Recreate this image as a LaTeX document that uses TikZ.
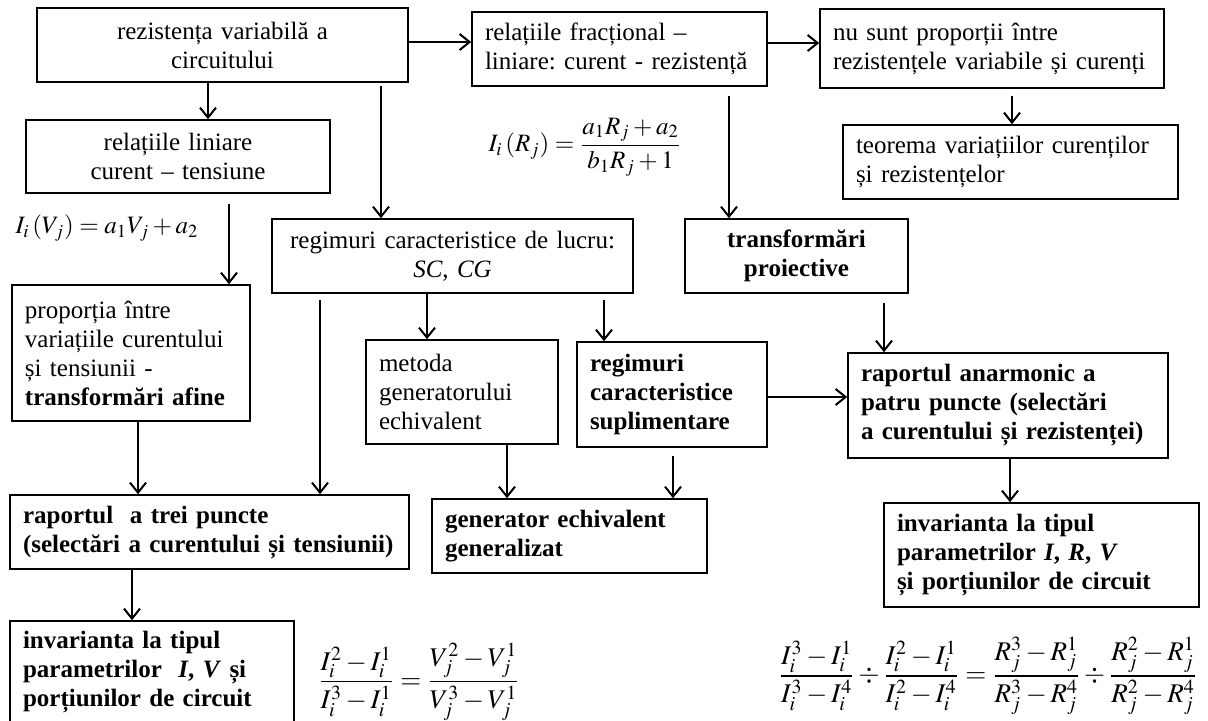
\documentclass[tikz,border=0pt]{standalone}
\usepackage{amsmath}
\usepackage{mathptmx}
\usepackage{fontspec}
\setmainfont{Liberation Serif}
\usepackage{tikz}
\usetikzlibrary{arrows.meta}
\frenchspacing

\begin{document}
\begin{tikzpicture}[x=0.5pt, y=-0.5pt,
    >={Straight Barb[length=5pt, width=8pt]},
    casuta/.style={draw, line width=0.8pt, inner xsep=6.5pt, inner ysep=0pt,
        font=\fontsize{12.5}{14.5}\selectfont},
    stanga/.style={casuta, align=left},
    centru/.style={casuta, align=center},
    formula/.style={inner sep=0pt, font=\fontsize{12.5}{14.5}\selectfont},
    formulamare/.style={inner sep=0pt, font=\fontsize{13.5}{15}\selectfont},
    sageata/.style={->, line width=1pt}]
    % Cadrul imaginii
    \useasboundingbox (0,0) rectangle (1208,720);

    % Rândul de sus
    \node[centru, text width=172.5pt, minimum height=37pt] (rezvar) at (222.5,45)
        {rezistența variabilă a\\circuitului};
    \node[stanga, text width=134.5pt, minimum height=37pt] (fractRI) at (619.5,49)
        {relațiile fracțional –\\liniare: curent - rezistență};
    \node[stanga, text width=159pt, minimum height=39.5pt] (nuprop) at (992,48.5)
        {nu sunt proporții între\\rezistențele variabile și curenți};
    \node[centru, text width=139pt, minimum height=36.5pt] (linIV) at (178,156.5)
        {relațiile liniare\\curent – tensiune};
    \node[stanga, text width=154.5pt, minimum height=37pt] (teorema) at (1010.5,162)
        {teorema variațiilor curenților\\și rezistențelor};

    % Formulele de sus
    \node[formula] (eqIV) at (107,228) {$I_i\,(V_j) = a_1V_j + a_2$};
    \node[formula] (eqRI) at (585,147) {$I_i\,(R_j) = \dfrac{a_1R_j + a_2}{b_1R_j + 1}$};

    % Rândul din mijloc
    \node[centru, text width=167.5pt, minimum height=37pt] (regimuri) at (452.5,256)
        {regimuri caracteristice de lucru:\\\textit{SC}, \textit{CG}};
    \node[centru, text width=98.5pt, minimum height=37pt] (proiect) at (796.5,256)
        {\textbf{transformări}\\\textbf{proiective}};
    \node[stanga, text width=106pt, minimum height=68pt] (propafin) at (131,353)
        {proporția între\\variațiile curentului\\și tensiunii -\\\textbf{transformări afine}};
    \node[stanga, text width=83pt, minimum height=52pt] (metoda) at (462,392)
        {metoda\\generatorului\\echivalent};
    \node[stanga, text width=82pt, minimum height=52.5pt] (suplim) at (672,394.5)
        {\textbf{regimuri}\\\textbf{caracteristice}\\\textbf{suplimentare}};
    \node[stanga, text width=147pt, minimum height=52.5pt] (anarmon) at (1008,405.5)
        {\textbf{raportul anarmonic a}\\\textbf{patru puncte (selectări}\\\textbf{a curentului și rezistenței)}};

    % Rândul de jos
    \node[stanga, text width=186.5pt, minimum height=37pt] (treipct) at (209.5,532)
        {\textbf{raportul\ \ a trei puncte}\\\textbf{(selectări a curentului și tensiunii)}};
    \node[stanga, text width=124.5pt, minimum height=37pt] (genechiv) at (569.5,536)
        {\textbf{generator echivalent}\\\textbf{generalizat}};
    \node[stanga, text width=144.5pt, minimum height=52pt] (invIRV) at (1041.5,555)
        {\textbf{invarianta la tipul}\\\textbf{parametrilor \textit{I}, \textit{R}, \textit{V}}\\\textbf{și porțiunilor de circuit}};
    \node[stanga, text width=129pt, minimum height=50.5pt] (invIV) at (152,671.5)
        {\textbf{invarianta la tipul}\\\textbf{parametrilor\ \ \textit{I}, \textit{V} și}\\\textbf{porțiunilor de circuit}};

    % Formulele de jos
    \node[formulamare] (eqtrei) at (419,682)
        {$\dfrac{I_i^2 - I_i^1}{I_i^3 - I_i^1} = \dfrac{V_j^2 - V_j^1}{V_j^3 - V_j^1}$};
    \node[formulamare] (eqpatru) at (988,676)
        {$\dfrac{I_i^3 - I_i^1}{I_i^3 - I_i^4} \div \dfrac{I_i^2 - I_i^1}{I_i^2 - I_i^4}
          = \dfrac{R_j^3 - R_j^1}{R_j^3 - R_j^4} \div \dfrac{R_j^2 - R_j^1}{R_j^2 - R_j^4}$};

    % Săgețile
    \draw[sageata] (rezvar.east |- 0,42) -- (fractRI.west |- 0,42);
    \draw[sageata] (fractRI.east |- 0,43) -- (nuprop.west |- 0,43);
    \draw[sageata] (rezvar.south -| 208,0) -- (linIV.north -| 208,0);
    \draw[sageata, shorten <=1.5pt] (rezvar.south -| 381,0) -- (regimuri.north -| 381,0);
    \draw[sageata, shorten <=5pt] (linIV.south -| 229,0) -- (propafin.north -| 229,0);
    \draw[sageata, shorten <=3.5pt] (nuprop.south -| 1012,0) -- (teorema.north -| 1012,0);
    \draw[sageata, shorten <=4.5pt] (fractRI.south -| 729,0) -- (proiect.north -| 729,0);
    \draw[sageata] (regimuri.south -| 427,0) -- (metoda.north -| 427,0);
    \draw[sageata, shorten <=3pt] (regimuri.south -| 604,0) -- (suplim.north -| 604,0);
    \draw[sageata, shorten <=3pt] (regimuri.south -| 320,0) -- (treipct.north -| 320,0);
    \draw[sageata] (propafin.south -| 138,0) -- (treipct.north -| 138,0);
    \draw[sageata, shorten <=4.5pt] (proiect.south -| 884,0) -- (anarmon.north -| 884,0);
    \draw[sageata] (suplim.east |- 0,397) -- (anarmon.west |- 0,397);
    \draw[sageata] (metoda.south -| 507,0) -- (genechiv.north -| 507,0);
    \draw[sageata, shorten <=4pt] (suplim.south -| 673,0) -- (genechiv.north -| 673,0);
    \draw[sageata] (anarmon.south -| 1010,0) -- (invIRV.north -| 1010,0);
    \draw[sageata] (treipct.south -| 132,0) -- (invIV.north -| 132,0);
\end{tikzpicture}
\end{document}
